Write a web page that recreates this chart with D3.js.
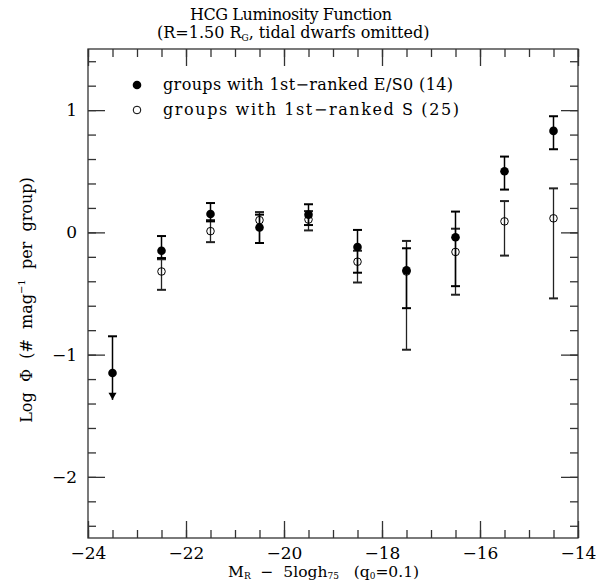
<!DOCTYPE html>
<html><head><meta charset="utf-8">
<script src="https://cdn.jsdelivr.net/npm/d3@7"></script>
<style>body{margin:0;background:#fff}svg{display:block}text{font-family:"DejaVu Serif",serif;fill:#000}.pre{white-space:pre}</style>
</head><body>
<script>
// Data
const magBins = [-23.5, -22.5, -21.5, -20.5, -19.5, -18.5, -17.5, -16.5, -15.5, -14.5];
const e0Val  = [-1.15, -0.15, 0.15, 0.04, 0.145, -0.12, -0.31, -0.04, 0.50, 0.83];
const e0Hi   = [-0.85, -0.03, 0.24, 0.145, 0.23, 0.02, -0.13, 0.17, 0.62, 0.95];
const e0Lo   = [-1.37, -0.21, 0.09, -0.087, 0.06, -0.33, -0.62, -0.44, 0.35, 0.68];
const e0Limit = [true, false, false, false, false, false, false, false, false, false];
const sBins  = [-22.5, -21.5, -20.5, -19.5, -18.5, -17.5, -16.5, -15.5, -14.5];
const sVal   = [-0.32, 0.01, 0.10, 0.105, -0.24, -0.32, -0.16, 0.09, 0.115];
const sHi    = [-0.22, 0.10, 0.166, 0.174, -0.15, -0.07, 0.03, 0.256, 0.36];
const sLo    = [-0.47, -0.08, -0.087, 0.016, -0.41, -0.96, -0.51, -0.19, -0.54];
const xMajor = [-24, -22, -20, -18, -16, -14];
const yMajor = [1, 0, -1, -2];
const legendLabels = ["groups with 1st\u2212ranked E/S0 (14)", "groups with 1st\u2212ranked S (25)"];

const W = 596, H = 581;
const L = 88, R = 578, T = 49, B = 538;
const svg = d3.select("body").append("svg").attr("width", W).attr("height", H);
const x = d3.scaleLinear().domain([-24, -14]).range([L, R]);
const y = d3.scaleLinear().domain([-2.5, 1.5]).range([B, T]);

svg.append("rect").attr("x", L).attr("y", T).attr("width", R - L).attr("height", B - T)
  .attr("fill", "none").attr("stroke", "#333").attr("stroke-width", 1.3);

const fmt = d => d3.format("")(d);
const xMinor = d3.range(-24, -13.99, 0.5);
svg.append("g").attr("transform", `translate(0,${B})`)
  .call(d3.axisBottom(x).tickValues(xMinor).tickSize(-8).tickFormat(""));
svg.append("g").attr("transform", `translate(0,${B})`)
  .call(d3.axisBottom(x).tickValues(xMajor).tickSize(-17).tickPadding(9).tickFormat(fmt));
svg.append("g").attr("transform", `translate(0,${T})`)
  .call(d3.axisTop(x).tickValues(xMinor).tickSize(-8).tickFormat(""));
svg.append("g").attr("transform", `translate(0,${T})`)
  .call(d3.axisTop(x).tickValues(xMajor).tickSize(-17).tickFormat(""));
const yMinor = d3.range(-2.4, 1.41, 0.2).map(v => Math.round(v * 10) / 10);
svg.append("g").attr("transform", `translate(${L},0)`)
  .call(d3.axisLeft(y).tickValues(yMinor).tickSize(-8).tickFormat(""));
svg.append("g").attr("transform", `translate(${L},0)`)
  .call(d3.axisLeft(y).tickValues(yMajor).tickSize(-17).tickPadding(11).tickFormat(fmt));
svg.append("g").attr("transform", `translate(${R},0)`)
  .call(d3.axisRight(y).tickValues(yMinor).tickSize(-8).tickFormat(""));
svg.append("g").attr("transform", `translate(${R},0)`)
  .call(d3.axisRight(y).tickValues(yMajor).tickSize(-17).tickFormat(""));
svg.selectAll(".domain").remove();
svg.selectAll(".tick line").attr("stroke", "#333").attr("stroke-width", 1.3);
svg.selectAll(".tick text").style("font-family", "'DejaVu Serif', serif").attr("font-size", 17).attr("fill", "#000");

function errBars(bins, hi, lo, limit, color, w) {
  const g = svg.append("g");
  bins.forEach((b, i) => {
    const cx = x(b);
    g.append("line").attr("x1", cx).attr("x2", cx).attr("y1", y(hi[i])).attr("y2", y(lo[i]))
      .attr("stroke", color).attr("stroke-width", w);
    g.append("line").attr("x1", cx - 4.5).attr("x2", cx + 4.5).attr("y1", y(hi[i])).attr("y2", y(hi[i]))
      .attr("stroke", color).attr("stroke-width", 2);
    if (limit && limit[i]) {
      const ty = y(lo[i]);
      g.append("path").attr("d", `M${cx - 4},${ty - 7}L${cx + 4},${ty - 7}L${cx},${ty}Z`).attr("fill", "#000");
    } else {
      g.append("line").attr("x1", cx - 4.5).attr("x2", cx + 4.5).attr("y1", y(lo[i])).attr("y2", y(lo[i]))
        .attr("stroke", color).attr("stroke-width", 2);
    }
  });
}
errBars(sBins, sHi, sLo, null, "#222", 1.3);
errBars(magBins, e0Hi, e0Lo, e0Limit, "#000", 1.5);

svg.append("g").selectAll("circle").data(sBins).join("circle")
  .attr("cx", d => x(d)).attr("cy", (d, i) => y(sVal[i])).attr("r", 3.8)
  .attr("fill", "none").attr("stroke", "#000").attr("stroke-width", 1);
svg.append("g").selectAll("circle").data(magBins).join("circle")
  .attr("cx", d => x(d)).attr("cy", (d, i) => y(e0Val[i])).attr("r", 4.3)
  .attr("fill", "#000");

// legend
const lg = svg.append("g");
lg.append("circle").attr("cx", 137).attr("cy", 85).attr("r", 4.3).attr("fill", "#000");
lg.append("circle").attr("cx", 137).attr("cy", 110).attr("r", 3.8).attr("fill", "none").attr("stroke", "#000");
const legendW = [290, 296];
legendLabels.forEach((t, i) => {
  lg.append("text").attr("x", 163).attr("y", 90 + i * 25).attr("font-size", 16)
    .attr("textLength", legendW[i]).attr("lengthAdjust", "spacing").text(t);
});

// titles
svg.append("text").attr("x", 190).attr("y", 20).attr("font-size", 16)
  .attr("textLength", 202).attr("lengthAdjust", "spacing").text("HCG Luminosity Function");
const t2 = svg.append("text").attr("x", 157).attr("y", 38).attr("font-size", 16);
t2.append("tspan").text("(R=1.50 R");
t2.append("tspan").attr("font-size", 9).attr("dy", 3).text("G");
t2.append("tspan").attr("dy", -3).text(", tidal dwarfs omitted)");

// x label
const xl = svg.append("text").attr("class", "pre").attr("x", 228).attr("y", 577).attr("font-size", 15.5);
xl.append("tspan").text("M");
xl.append("tspan").attr("font-size", 9).attr("dy", 2).text("R");
xl.append("tspan").attr("dy", -2).text("  \u2212  5logh");
xl.append("tspan").attr("font-size", 9).attr("dy", 2).text("75");
xl.append("tspan").attr("dy", -2).text("   (q");
xl.append("tspan").attr("font-size", 9).attr("dy", 2).text("0");
xl.append("tspan").attr("dy", -2).text("=0.1)");

// y label
const yl = svg.append("text").attr("class", "pre").attr("transform", "translate(32,300) rotate(-90)")
  .attr("text-anchor", "middle").attr("font-size", 16);
yl.append("tspan").text("Log  \u03A6  (#  mag");
yl.append("tspan").attr("font-size", 10).attr("dy", -7).text("\u22121");
yl.append("tspan").attr("dy", 7).text("  per  group)");
</script>
</body></html>
